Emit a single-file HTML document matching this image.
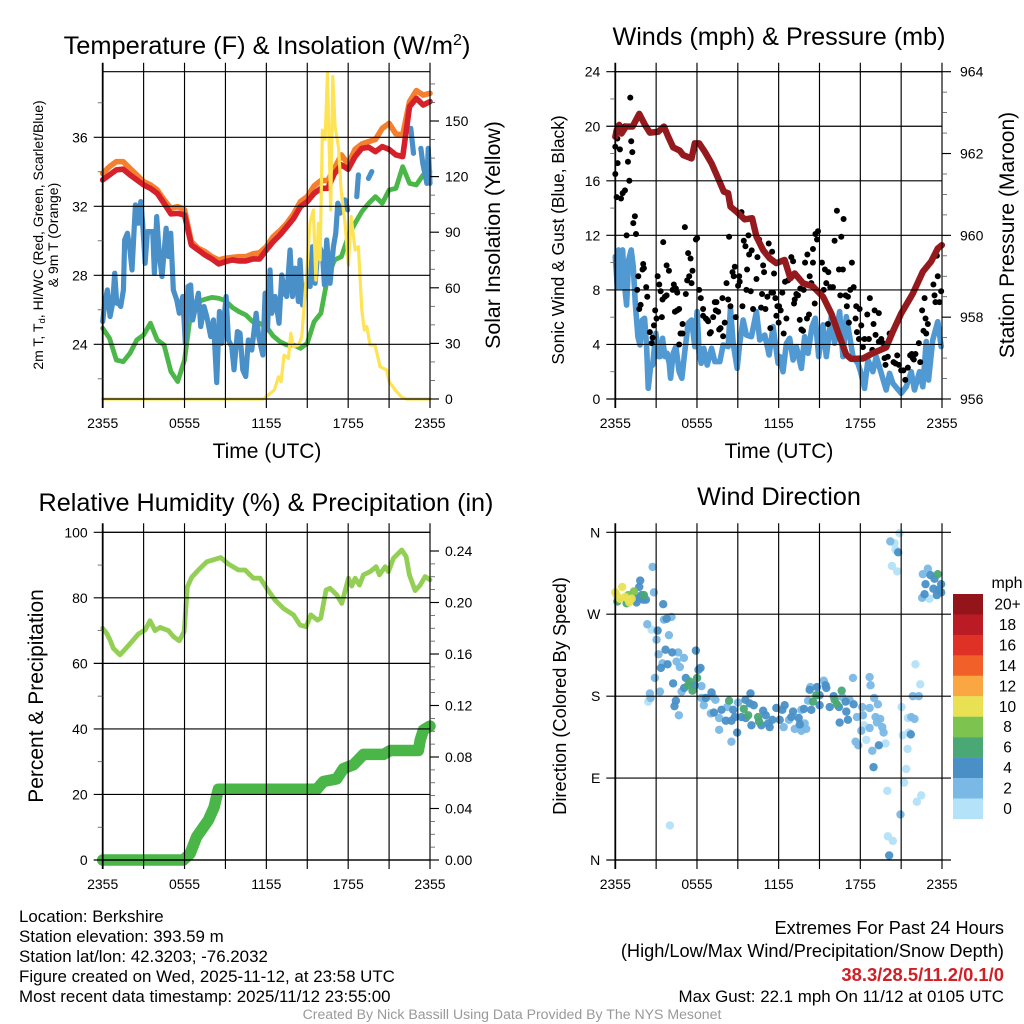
<!DOCTYPE html>
<html lang="en">
<head>
<meta charset="utf-8">
<title>Berkshire Meteogram</title>
<style>
html,body{margin:0;padding:0;background:#fff}
svg{display:block}
text{font-family:"Liberation Sans",Arial,sans-serif;fill:#000}
</style>
</head>
<body>
<svg id="chart" xmlns="http://www.w3.org/2000/svg" width="1024" height="1024" viewBox="0 0 1024 1024">
<rect width="1024" height="1024" fill="#fff"/>
<g id="p1"></g>
<g id="p2"></g>
<g id="p3"></g>
<g id="p4"></g>
<g id="legend"></g>

<text x="267" y="54" font-size="25.4" text-anchor="middle">Temperature (F) &amp; Insolation (W/m<tspan font-size="16" dy="-9">2</tspan><tspan dy="9">)</tspan></text>
<text x="779" y="45" font-size="25.2" text-anchor="middle">Winds (mph) &amp; Pressure (mb)</text>
<text x="266" y="511" font-size="25.2" text-anchor="middle">Relative Humidity (%) &amp; Precipitation (in)</text>
<text x="779" y="505" font-size="25.2" text-anchor="middle">Wind Direction</text>

<text x="267" y="458" font-size="21" text-anchor="middle">Time (UTC)</text>
<text x="779" y="458" font-size="21" text-anchor="middle">Time (UTC)</text>

<text transform="translate(43,235) rotate(-90)" font-size="14" text-anchor="middle">2m T, T<tspan font-size="9.5" dy="2">d</tspan><tspan dy="-2">, HI/WC (Red, Green, Scarlet/Blue)</tspan></text>
<text transform="translate(58,235) rotate(-90)" font-size="14" text-anchor="middle">&amp; 9m T (Orange)</text>
<text transform="translate(500,235) rotate(-90)" font-size="21.3" text-anchor="middle">Solar Insolation (Yellow)</text>
<text transform="translate(564,240) rotate(-90)" font-size="17.4" text-anchor="middle">Sonic Wind &amp; Gust (Blue, Black)</text>
<text transform="translate(1014,235) rotate(-90)" font-size="21" text-anchor="middle">Station Pressure (Maroon)</text>
<text transform="translate(43,696) rotate(-90)" font-size="21" text-anchor="middle">Percent &amp; Precipitation</text>
<text transform="translate(566,696) rotate(-90)" font-size="18.3" text-anchor="middle">Direction (Colored By Speed)</text>

<g font-size="16.9">
<text x="19" y="922">Location: Berkshire</text>
<text x="19" y="942">Station elevation: 393.59 m</text>
<text x="19" y="962">Station lat/lon: 42.3203; -76.2032</text>
<text x="19" y="982">Figure created on Wed, 2025-11-12, at 23:58 UTC</text>
<text x="19" y="1002">Most recent data timestamp: 2025/11/12 23:55:00</text>
</g>
<g text-anchor="end">
<text x="1004" y="934" font-size="18.2">Extremes For Past 24 Hours</text>
<text x="1004" y="957" font-size="18.2">(High/Low/Max Wind/Precipitation/Snow Depth)</text>
<text x="1004" y="981" font-size="18.4" font-weight="bold" style="fill:#d11f26">38.3/28.5/11.2/0.1/0</text>
<text x="1004" y="1002" font-size="16.9">Max Gust: 22.1 mph On 11/12 at 0105 UTC</text>
</g>
<text x="512" y="1019" font-size="14.1" text-anchor="middle" style="fill:#999">Created By Nick Bassill Using Data Provided By The NYS Mesonet</text>
</svg>
<script>
// ---- tick labels ----
const timeTickLabels = ['2355','','0555','','1155','','1755','','2355'];
const timeTickHours = [0,3,6,9,12,15,18,21,24];
const tempTicks = [36,32,28,24];
const tempMinorTicks = [38,34,30,26,22];
const solarTicks = [0,30,60,90,120,150];
const solarMinorTicks = [10,20,40,50,70,80,100,110,130,140,160,170];
const speedTicks = [24,20,16,12,8,4,0];
const speedMinorTicks = [22,18,14,10,6,2];
const pressureTicks = [956,958,960,962,964];
const pressureMinorTicks = [956.5,957,957.5,958.5,959,959.5,960.5,961,961.5,962.5,963,963.5];
const rhTicks = [100,80,60,40,20,0];
const rhMinorTicks = [90,70,50,30,10];
const precipTicks = [0,0.04,0.08,0.12,0.16,0.20,0.24];
const precipTickLabels = ['0.00','0.04','0.08','0.12','0.16','0.20','0.24'];
const precipMinorTicks = [0.01,0.02,0.03,0.05,0.06,0.07,0.09,0.10,0.11,0.13,0.14,0.15,0.17,0.18,0.19,0.21,0.22,0.23];
const dirTicks = [360,270,180,90,0];
const dirTickLabels = ['N','W','S','E','N'];
const legendLabels = ['20+','18','16','14','12','10','8','6','4','2','0'];
const legendColors = ['#93151a','#bb1b24','#e03127','#f26029','#faa743','#e9e153','#7dc34f','#4aa874','#4a90c7','#7ab8e6','#b3e2f9'];

// ---- temperature panel (half-hourly, degF) ----
const temp2m = [33.53,33.82,34.11,34.15,33.82,33.53,33.24,33.04,32.75,32.17,31.56,31.59,31.5,29.76,29.47,29.18,28.95,28.66,28.79,28.89,28.83,28.83,28.95,28.95,29.47,29.95,30.34,30.82,31.30,31.98,32.27,32.75,33.04,33.04,33.91,34.40,34.15,34.88,35.36,35.42,35.17,35.46,35.30,34.98,34.88,37.78,38.26,37.87,38.07];
const temp9m = [33.91,34.30,34.59,34.59,34.20,33.82,33.43,33.24,32.95,32.37,31.88,31.98,31.79,29.95,29.57,29.37,29.08,28.89,28.99,29.04,29.08,29.08,29.24,29.31,29.66,30.24,30.59,31.01,31.56,32.27,32.56,33.18,33.49,33.49,34.20,34.98,34.45,35.30,35.61,35.75,35.88,36.52,36.81,36.19,36.14,38.07,38.71,38.45,38.55];
const dewpoint = [24.93,24.35,23.09,22.99,23.48,24.25,24.54,25.22,24.25,23.96,22.42,21.84,23.09,26.09,26.47,26.61,26.72,26.67,26.53,26.14,25.89,25.70,25.31,25.22,25.02,24.48,24.15,23.96,23.96,23.77,24.06,25.31,25.80,27.92,28.89,29.08,30.24,31.01,31.69,32.17,32.56,32.17,32.95,33.04,34.30,33.33,33.24,33.82,34.01];
const windChillHours = [0,.15,.34,.54,.73,.88,1.03,1.17,1.32,1.52,1.61,1.81,2.0,2.15,2.40,2.62,2.79,2.93,3.11,3.28,3.47,3.67,3.79,3.96,4.16,4.35,4.65,4.82,4.99,5.18,5.43,5.62,5.87,6.06,6.26,6.45,6.6,7.02,7.19,7.43,7.63,7.92,8.12,8.36,8.56,8.73,9.05,9.22,9.46,9.63,9.88,10.07,10.27,10.49,10.68,10.93,11.25,11.44,11.74,11.91,12.08,12.27,12.40,12.64,12.93,13.13,13.32,13.49,13.74,13.91,14.11,14.35,14.47,14.65,14.96,15.21,15.38,15.57,15.82,16.11,16.26,16.43,16.67,16.92,17.09,17.24,17.41,17.77,17.96,18,18.63,18.75,18.8,19.49,19.73,19.8,22.59,22.79,22.9,23.33,23.47,23.77,23.87,24];
const windChill = [25.32,26.38,27.15,25.61,26.38,28.12,26.38,26.38,26.19,27.15,30.05,30.44,29.47,28.31,32.08,31.02,32.27,31.02,28.70,30.53,30.53,30.53,28.12,31.40,29.09,27.93,30.73,29.09,30.44,27.15,26.57,25.80,26.77,24.06,27.35,27.44,25.41,26.96,25.03,26.19,25.61,24.45,25.41,21.78,25.90,24.06,26.77,24.25,23.87,22.52,24.74,24.64,22.52,22.13,24.25,23.67,25.80,24.45,23.38,26.96,24.83,28.31,25.80,26.77,25.22,28.02,26.96,26.77,29.47,26.77,28.41,26.48,28.89,26.28,27.54,27.35,29.66,27.54,29.76,29.28,27.44,30.05,27.54,29.66,30.44,32.18,31.60,32.37,31.79,null,32.56,33.82,null,33.62,34.01,null,36.52,35.07,null,35.36,34.49,33.33,35.36,33.33];
const solarHours = [0,11.78,12.15,12.59,12.89,13.08,13.30,13.62,13.79,13.98,14.35,14.6,14.84,14.97,15.21,15.45,15.63,15.82,15.94,16.11,16.31,16.48,16.63,16.72,16.87,17.04,17.29,17.48,17.77,18.02,18.22,18.51,18.75,19.0,19.19,19.37,19.61,19.97,20.34,20.83,21.0,21.44,21.93,22.3,24];
const solarValues = [0,0,2.2,4.9,12,9.4,23.7,21.9,35.4,28.2,29.1,33.6,57,69.6,95.7,102,64.2,94.8,75,145,140,176,129,102,174,147,136,112.8,94.8,72.3,98.4,80.4,82.2,48,37.2,39,29.1,29.1,17.4,15.6,9.4,4.9,1,0,0];

// ---- winds panel ----
const sustainedHours = [0,.15,.24,.39,.54,.64,.83,.98,1.17,1.32,1.47,1.66,1.81,1.98,2.15,2.30,2.42,2.59,2.74,2.98,3.15,3.28,3.47,3.64,3.81,3.96,4.06,4.25,4.45,4.69,4.89,5.09,5.35,5.6,5.84,6.01,6.16,6.31,6.5,6.75,7.07,7.31,7.68,7.92,8.29,8.46,8.66,8.95,9.14,9.39,9.63,10.0,10.37,10.61,10.98,11.3,11.59,11.96,12.08,12.32,12.57,12.81,13.06,13.3,13.67,13.91,14.16,14.45,14.69,14.94,15.26,15.5,15.87,16.11,16.48,16.72,16.97,17.22,17.46,17.82,18.02,18.31,18.56,18.92,19.17,19.54,19.90,20.15,20.39,21.0,21.37,21.74,21.98,22.35,22.59,22.84,23.01,23.32,23.69,23.94];
const sustainedSpeeds = [10.44,8.24,10.93,8.24,10.93,8.73,6.89,10.2,10.93,9.71,7.02,4.57,3.96,5.79,5.92,3.84,.78,2.37,2.49,4.82,3.11,3.11,4.45,3.11,3.35,2.62,1.52,3.35,3.84,2.0,1.52,3.35,5.55,5.79,3.84,6.41,3.35,2.62,3.72,2.49,3.72,2.74,2.74,3.96,3.84,6.65,4.08,2.25,4.08,5.79,4.69,4.57,6.41,4.33,4.69,3.23,5.31,2.62,3.11,2.0,4.08,4.45,2.86,3.84,2.25,4.57,3.35,5.31,5.92,3.11,5.43,3.11,6.04,4.08,6.41,3.11,6.04,4.57,3.11,2.62,2.0,.78,2.86,2.0,3.11,1.88,.66,1.88,1.15,.42,.9,2.0,.66,2.0,.9,4.21,1.39,4.33,5.67,3.84];
const gustHours = [0,0,.10,.17,.15,.34,.42,.54,.71,.93,1.03,1.17,1.25,1.10,.71,1.32,1.44,.83,1.52,2.05,2.10,2.0,1.69,1.86,1.76,1.61,2.27,2.35,2.54,2.67,2.74,2.84,2.93,3.03,3.11,3.23,3.33,3.42,3.52,3.47,3.64,3.77,3.77,3.94,4.21,4.30,4.45,4.55,4.38,4.55,4.69,4.69,4.79,4.94,4.94,5.11,5.18,5.28,5.35,5.53,5.43,5.67,5.60,5.92,6.01,6.16,6.28,6.45,6.45,6.65,6.82,6.75,7.02,6.94,7.19,7.31,7.43,7.38,7.56,7.73,7.63,7.87,8.04,7.92,8.17,8.29,8.36,8.46,8.61,8.70,8.78,8.85,9.02,9.10,9.14,9.27,9.34,9.63,9.68,9.44,9.56,9.78,9.83,9.95,10.02,10.12,10.37,10.44,10.56,10.71,10.78,10.86,10.93,11.03,11.17,11.27,11.39,11.47,11.52,11.59,11.66,11.76,11.83,11.91,12.03,12.0,12.15,12.27,12.37,12.47,12.57,12.69,12.93,13.06,13.18,13.13,13.30,13.42,13.55,13.59,13.67,13.79,13.84,13.94,14.11,14.23,14.08,14.28,14.40,14.52,14.52,14.65,14.70,14.82,14.89,15.18,15.31,15.40,15.50,15.65,15.62,15.79,15.99,16.11,16.28,16.43,16.53,16.60,16.72,16.77,16.92,17.09,17.01,17.16,17.26,17.38,17.51,17.65,17.70,17.75,17.90,17.95,18.07,18.19,18.31,18.51,18.63,18.70,18.88,18.97,19.05,19.12,19.36,19.36,19.54,19.66,19.78,19.85,20.02,20.15,20.44,20.71,20.59,20.83,21.0,21.17,21.30,21.49,21.66,21.78,21.86,21.93,22.05,22.30,22.40,22.54,22.64,22.72,22.79,22.84,22.96,23.37,23.45,23.52,23.69,23.81,23.94,23.62];
const gustSpeeds = [16.5,18.5,14.8,17.3,19.1,18.3,14.7,15.1,15.3,17.4,16.0,18.9,18.1,22.1,20.0,12.9,13.4,12.0,12.1,9.9,9.6,9.5,9.0,6.9,6.6,8.0,8.2,7.5,4.9,4.1,4.5,5.4,6.5,5.9,9.0,8.4,7.9,6.0,11.5,7.3,7.5,7.6,9.8,9.4,8.0,8.4,8.1,7.8,6.4,6.5,6.6,4.0,4.8,4.8,5.5,12.6,7.7,8.7,10.7,10.3,9.0,9.4,8.5,11.7,11.8,8.0,7.4,6.6,6.1,5.9,5.7,5.8,4.9,4.8,6.0,7.1,7.1,6.5,6.4,5.2,5.1,7.4,5.6,4.6,8.5,7.3,11.9,6.8,9.3,9.0,9.7,6.0,8.3,9.0,8.6,13.7,6.8,8.0,9.5,11.6,11.2,12.0,10.6,7.9,10.9,6.6,8.8,10.4,11.7,6.7,7.7,9.8,9.3,6.6,7.5,11.4,5.2,7.8,10.8,7.8,9.2,7.4,6.1,6.8,6.8,5.6,6.5,7.8,4.8,8.6,5.9,8.7,10.4,10.1,7.3,7.0,7.7,7.6,5.8,8.1,5.1,5.0,8.0,10.0,10.6,6.2,5.9,9.0,8.5,11.0,10.0,7.0,12.1,11.7,12.3,10.0,8.0,9.5,8.5,9.3,5.5,8.2,8.2,11.6,13.8,9.5,7.6,11.9,9.5,13.2,7.6,7.5,6.8,5.6,8.0,10.0,8.2,5.9,6.8,4.9,4.4,6.6,5.4,3.8,4.4,6.2,4.4,7.4,3.6,5.5,6.5,4.7,6.3,4.2,4.4,4.1,3.0,2.5,3.1,4.8,2.7,3.2,2.6,2.5,2.1,2.1,1.4,2.3,3.2,3.3,3.0,2.9,3.3,4.1,2.7,6.5,5.0,7.4,5.9,4.8,5.5,8.4,7.6,7.1,9.0,7.1,7.9,10.5];
const pressureHours = [0,.1,.29,.46,.78,1.27,1.76,2.18,2.54,3.15,3.57,3.89,4.25,4.74,4.99,5.6,5.84,6.16,6.58,7.07,7.56,7.97,8.29,8.46,8.9,9.51,10.05,10.37,10.86,11.34,11.83,12.44,12.86,13.18,13.79,14.52,15.26,15.87,16.48,16.97,17.33,18.19,18.92,19.9,20.39,21,21.86,22.59,23.2,23.69,23.99];
const pressureValues = [962.41,962.57,962.70,962.49,962.66,962.66,962.97,962.70,962.51,962.53,962.66,962.41,962.15,962.07,961.96,961.88,962.25,962.25,962.04,961.76,961.39,961.07,961.03,960.70,960.58,960.39,960.42,959.97,959.64,959.44,959.32,959.40,958.95,959.07,958.83,958.75,958.50,958.09,957.52,957.08,956.98,956.99,957.12,957.26,957.65,958.09,958.58,959.11,959.36,959.68,959.76];

// ---- humidity panel ----
const rhHours = [0,.29,.54,.78,1.27,1.64,2.13,2.62,3.11,3.47,3.84,4.21,4.82,5.18,5.62,5.97,6.21,6.53,7.02,7.63,8.66,9.22,9.95,10.44,11.05,11.54,12.03,12.64,13.25,13.99,14.47,14.91,15.26,15.75,15.99,16.38,16.67,17.16,17.53,18.02,18.26,18.51,18.83,19.12,19.61,20.05,20.29,20.71,20.95,21.32,21.93,22.25,22.49,22.91,23.28,23.64,24];
const rhValues = [70.7,69.2,67.1,64.6,62.6,64.3,66.6,69.0,70.2,73.0,70.0,71.0,70.0,68.2,66.9,69.7,83.4,86.3,88.5,91.0,92.3,90.3,88.5,88.5,86.0,86.0,82.9,79.3,76.8,74.8,71.7,71.2,74.8,73.2,73.8,82.4,82.9,80.9,78.3,86.0,83.6,86.0,83.9,87.0,88.0,89.5,87.0,89.5,88.0,92.1,94.6,92.6,87.0,82.2,83.9,86.5,85.5];
const precipHours = [0,5.92,6.41,6.89,7.75,8.17,8.48,15.7,16.19,17.16,17.65,18.39,19.12,20.59,21.08,23.15,23.28,23.52,24];
const precipValues = [0,0,.005,.018,.031,.041,.055,.055,.061,.063,.071,.074,.082,.082,.085,.085,.093,.101,.104];

// ---- wind direction panel ----
const dirHours = [0,.10,.51,.34,.71,.95,1.2,1.03,.15,.83,.95,1.37,2.10,1.56,1.81,1.76,1.83,2.05,2.25,1.44,1.93,2.74,2.84,3.52,4.13,3.77,3.57,2.35,2.67,3.11,3.03,3.94,3.69,3.18,4.18,4.62,5.04,4.50,3.84,3.35,3.47,4.74,5.92,6.26,6.11,2.91,5.18,4.25,6.01,5.48,5.35,5.67,5.84,6.33,5.06,4.87,3.28,2.54,2.59,2.42,4.45,4.35,4.67,6.65,7.07,7.19,6.33,7.36,6.50,7.02,7.24,7.63,7.80,8.12,8.36,8.22,8.66,8.78,8.53,9.02,7.63,8.95,8.53,9.27,9.44,9.56,9.76,9.93,9.88,10.17,9.58,10.0,10.49,10.56,10.86,10.73,11.05,11.34,11.54,11.22,12.08,11.83,12.37,12.44,12.27,12.76,12.93,13.06,13.47,13.67,13.18,13.67,14.03,13.91,13.55,13.86,14.40,14.16,14.52,14.77,14.33,14.28,14.82,15.01,15.01,15.31,15.45,15.50,15.75,16.04,16.11,16.28,16.63,16.43,16.92,16.67,16.97,17.09,16.48,17.46,17.21,17.51,17.75,18.14,18.68,18.19,18.68,18.75,19.02,19.29,19.12,19.46,19.22,19.61,19.71,18.26,18.68,18.07,18.44,17.65,17.85,19.85,19.36,18.88,18.97,22.05,22.40,21.86,22.30,21.03,21.74,21.98,21.49,21.56,21.12,21.71,21.47,21.37,21.22,19.98,22.47,22.15,20.95,20.02,20.39,20.12,4.01,20.88,20.20,20.51,20.59,20.78,20.32,20.71,22.96,22.59,23.15,23.69,23.45,22.79,23.94,23.37,22.72,22.54,23.08,23.62,23.94,23.76];
const dirDegrees = [294,291,300,287,289,286,287,283,284,282,291,295,291,283,289,300,307,286,286,287,291,322,294,281,267,265,264,259,253,252,242,247,231,226,228,228,222,218,215,211,216,212,230,211,209,200,200,194,200,196,192,186,192,191,189,185,185,183,178,174,175,169,159,178,184,179,178,176,170,161,162,156,165,153,175,168,165,157,153,173,143,140,130,157,166,176,159,183,172,170,156,148,157,152,164,148,159,146,154,150,154,167,146,170,165,154,157,163,156,165,144,142,144,150,149,166,165,175,174,181,190,187,190,181,170,197,192,189,168,180,176,171,186,168,174,179,163,154,151,200,176,171,157,168,167,159,201,192,178,171,157,155,151,146,140,148,145,142,132,130,126,128,126,120,102,215,193,180,180,168,157,155,156,140,137,138,122,100,85,76,71,64,50,26,21,5,38,359,350,348,341,338,323,317,320,314,313,314,309,303,303,298,292,288,287,291,294,297];
const dirSpeeds = [11,11,11,11,11,11,11,11,7,7,9,9,7,5,5,5,5,5,5,5,5,3,3,5,3,5,3,3,1,5,3,3,5,3,5,3,3,3,5,5,3,3,5,5,5,3,5,5,7,7,7,7,5,3,5,3,3,3,3,1,5,5,3,5,5,3,3,3,3,3,5,3,5,5,7,3,5,5,5,3,3,5,3,5,7,5,7,5,5,5,5,5,7,7,5,5,5,5,5,5,5,5,3,5,5,3,5,5,5,3,3,3,3,3,5,5,5,3,7,7,3,5,5,5,5,3,5,5,5,5,7,7,7,5,5,3,5,5,5,3,3,5,3,3,3,3,3,3,3,3,3,3,3,3,3,1,3,3,1,3,3,1,5,3,5,1,1,3,3,1,3,3,1,1,1,5,1,1,1,1,1,1,3,1,1,5,1,1,3,1,1,5,1,1,3,3,5,7,5,5,5,5,5,3,1,5,5,5];

// ---- axis functions ----
function linear(d0, d1, r0, r1) { return v => r0 + (v - d0) / (d1 - d0) * (r1 - r0); }
const xLeft = linear(0, 24, 102.7, 430);
const xRight = linear(0, 24, 615.3, 942);
const yTemp = linear(36, 24, 137.3, 344.3);
const ySolar = linear(0, 150, 399, 121);
const ySpeed = linear(24, 0, 71.7, 399);
const yPressure = linear(956, 964, 399, 71.7);
const yRh = linear(100, 0, 532.3, 860);
const yPrecip = linear(0, 0.24, 860, 551);
const yDir = linear(360, 0, 532.3, 860);

const NS = 'http://www.w3.org/2000/svg';
function make(parent, tag, attrs, text) {
  const el = document.createElementNS(NS, tag);
  for (const k in attrs) el.setAttribute(k, attrs[k]);
  if (text !== undefined) el.textContent = text;
  parent.appendChild(el);
  return el;
}
function seriesPath(parent, xs, ys, xf, yf, color, width, name) {
  let d = '', pen = false;
  xs.forEach((h, i) => {
    if (ys[i] === null) { pen = false; return; }
    d += (pen ? 'L' : 'M') + xf(h).toFixed(2) + ' ' + yf(ys[i]).toFixed(2);
    pen = true;
  });
  const el = make(parent, 'path', {d: d, fill: 'none', stroke: color, 'stroke-width': width, 'stroke-linejoin': 'round', 'stroke-linecap': 'round'});
  
  
  return el;
}
function evenHours(arr) { return arr.map((_, i) => i / (arr.length - 1) * 24); }

function drawFrame(g, xf, top, bottom, opt) {
  const L = xf(0), R = xf(24);
  const frame = make(g, 'g', {stroke: '#000', 'stroke-width': 1.15, fill: 'none'});
  
  
  timeTickHours.forEach(h => {
    make(frame, 'line', {x1: xf(h), x2: xf(h), y1: top - 9, y2: bottom + 9, 'stroke-width': (h === 0 ? 1.8 : 1.15)});
  });
  opt.leftTicks.forEach(v => {
    make(frame, 'line', {x1: L - 9, x2: opt.rightExtend ? R + 9 : R, y1: opt.yLeft(v), y2: opt.yLeft(v)});
  });
  opt.leftMinor.forEach(v => {
    make(frame, 'line', {x1: L - 5, x2: L, y1: opt.yLeft(v), y2: opt.yLeft(v), 'stroke-width': 0.8, stroke: '#555'});
  });
  make(frame, 'line', {x1: L, x2: R, y1: top, y2: top});
  make(frame, 'line', {x1: L, x2: R, y1: bottom, y2: bottom});
  opt.rightTicks.forEach(v => {
    make(frame, 'line', {x1: R, x2: R + 9, y1: opt.yRight(v), y2: opt.yRight(v)});
  });
  opt.rightMinor.forEach(v => {
    make(frame, 'line', {x1: R, x2: R + 5, y1: opt.yRight(v), y2: opt.yRight(v), 'stroke-width': 0.8, stroke: '#555'});
  });
  const labels = make(g, 'g', {'font-size': 14});
  
  
  timeTickHours.forEach((h, i) => {
    if (!timeTickLabels[i]) return;
    const t = make(labels, 'text', {x: xf(h), y: bottom + 29, 'text-anchor': 'middle'}, timeTickLabels[i]);
    
    
  });
  opt.leftTicks.forEach((v, i) => {
    const t = make(labels, 'text', {x: L - 15, y: opt.yLeft(v) + 5, 'text-anchor': 'end'}, opt.leftLabels ? opt.leftLabels[i] : String(v));
    
    
  });
  opt.rightTicks.forEach((v, i) => {
    const t = make(labels, 'text', {x: R + (opt.rightGap || 15), y: opt.yRight(v) + 5, 'text-anchor': 'start'}, opt.rightLabels ? opt.rightLabels[i] : String(v));
    
    
  });
}

// panel 1
const p1 = document.getElementById('p1');
seriesPath(p1, evenHours(dewpoint), dewpoint, xLeft, yTemp, '#4bb749', 4.8, 'dewpoint-line');
seriesPath(p1, windChillHours, windChill, xLeft, yTemp, '#4a90c8', 5.2, 'wind-chill-line');
seriesPath(p1, evenHours(temp9m), temp9m, xLeft, yTemp, '#f47f2f', 5.6, 'nine-meter-temp-line');
seriesPath(p1, evenHours(temp2m), temp2m, xLeft, yTemp, '#d6202a', 5.6, 'two-meter-temp-line');
seriesPath(p1, solarHours, solarValues, xLeft, ySolar, '#fee354', 3.2, 'solar-insolation-line');
drawFrame(p1, xLeft, 71.7, 399, {leftTicks: tempTicks, leftMinor: tempMinorTicks, yLeft: yTemp, rightTicks: solarTicks, rightMinor: solarMinorTicks, yRight: ySolar});

// panel 2
const p2 = document.getElementById('p2');
seriesPath(p2, sustainedHours, sustainedSpeeds, xRight, ySpeed, '#5199d3', 5.6, 'sonic-wind-line');
const gustGroup = make(p2, 'g', {fill: '#000'});


gustHours.forEach((h, i) => {
  const dot = make(gustGroup, 'circle', {cx: xRight(h), cy: ySpeed(gustSpeeds[i]), r: 3});
  
  
});
seriesPath(p2, pressureHours, pressureValues, xRight, yPressure, '#951a1d', 6.4, 'pressure-line');
drawFrame(p2, xRight, 71.7, 399, {leftTicks: speedTicks, leftMinor: speedMinorTicks, yLeft: ySpeed, rightTicks: pressureTicks, rightMinor: pressureMinorTicks, yRight: yPressure, rightGap: 18});

// panel 3
const p3 = document.getElementById('p3');
seriesPath(p3, rhHours, rhValues, xLeft, yRh, '#93cf55', 4.8, 'relative-humidity-line');
seriesPath(p3, precipHours, precipValues, xLeft, yPrecip, '#4ab648', 11.5, 'precipitation-line');
drawFrame(p3, xLeft, 532.3, 860, {leftTicks: rhTicks, leftMinor: rhMinorTicks, yLeft: yRh, rightTicks: precipTicks, rightMinor: precipMinorTicks, yRight: yPrecip, rightLabels: precipTickLabels});

// panel 4
const p4 = document.getElementById('p4');
const dirGroup = make(p4, 'g', {});


function speedColor(s) { return legendColors[legendColors.length - 1 - Math.min(Math.floor(s / 2), legendColors.length - 1)]; }
dirHours.map((_, i) => i).sort((a, b) => dirSpeeds[a] - dirSpeeds[b]).forEach(i => {
  const dot = make(dirGroup, 'circle', {cx: xRight(dirHours[i]), cy: yDir(dirDegrees[i]), r: 4.2, fill: speedColor(dirSpeeds[i]), 'fill-opacity': 0.95});
  
  
});
drawFrame(p4, xRight, 532.3, 860, {leftTicks: dirTicks, leftMinor: [], yLeft: yDir, leftLabels: dirTickLabels, rightExtend: true, rightTicks: [], rightMinor: [], yRight: yDir});

// legend
const lg = document.getElementById('legend');
const unitLabel = make(lg, 'text', {x: 1007, y: 588, 'font-size': 16, 'text-anchor': 'middle'}, 'mph');


legendLabels.forEach((lab, i) => {
  const swatch = make(lg, 'rect', {x: 953, y: 594 + i * 20.45, width: 30, height: 20.6, fill: legendColors[i]});
  
  
  const t = make(lg, 'text', {x: 1007.5, y: 609.5 + i * 20.45, 'font-size': 15.5, 'text-anchor': 'middle'}, lab);
  
  
});
</script>
</body>
</html>
